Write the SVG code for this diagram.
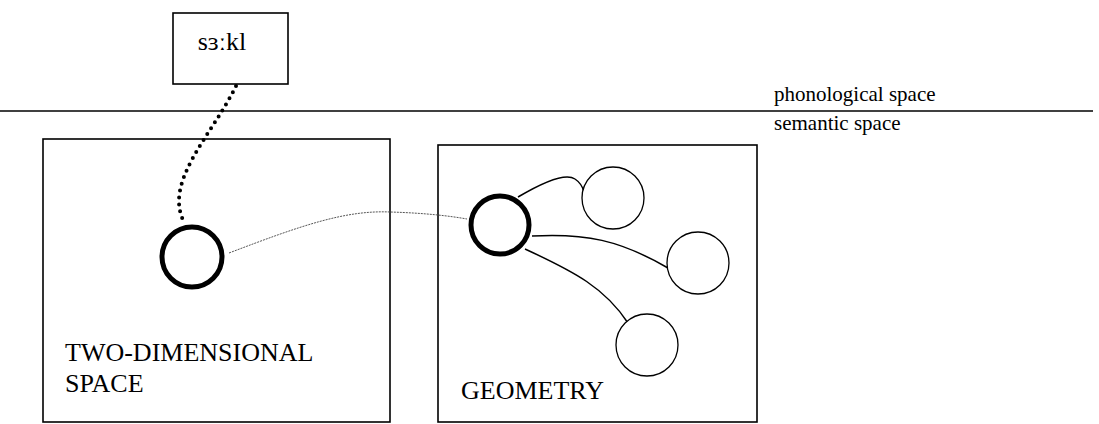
<svg xmlns="http://www.w3.org/2000/svg" width="1099" height="424" viewBox="0 0 1099 424">
<style>
text{font-family:"Liberation Serif","Times New Roman",serif;fill:#000}
.box{fill:#fff;stroke:#000;stroke-width:1.6}
.big{fill:#fff;stroke:#000;stroke-width:5}
.small{fill:#fff;stroke:#000;stroke-width:1.3}
.edge{fill:none;stroke:#000;stroke-width:1.5}
.thin{fill:none;stroke:#555;stroke-width:1;stroke-dasharray:2 1}
.dots{fill:none;stroke:#000;stroke-width:4;stroke-linecap:round;stroke-dasharray:0 7}
</style>
<rect width="1099" height="424" fill="#fff"/>
<g id="divider">
<line x1="0" y1="111" x2="1093" y2="111" stroke="#000" stroke-width="1.5"/>
<text x="774" y="101" font-size="21">phonological space</text>
<text x="774" y="130" font-size="21">semantic space</text>
</g>
<g id="box-two-dimensional">
<rect class="box" x="43" y="139" width="347" height="283"/>
<text x="65" y="361" font-size="26">TWO-DIMENSIONAL</text>
<text x="65" y="392" font-size="26">SPACE</text>
</g>
<g id="box-geometry">
<rect class="box" x="438" y="145" width="319" height="277"/>
<text x="461" y="399" font-size="26">GEOMETRY</text>
</g>
<g id="connectors">
<path class="dots" d="M236,86 C212,135 165,180 183,220"/>
<path class="thin" d="M229,253 C300,226 345,210 390,212 C425,213 450,216 467,219"/>
<path class="edge" d="M518,197 C540,184 565,172 575,179 C581,183 583,188 584,192"/>
<path class="edge" d="M532,236 C585,233 620,240 668,268"/>
<path class="edge" d="M525,249 C575,272 605,288 628,323"/>
</g>
<g id="node-word">
<rect class="box" x="173" y="13" width="115" height="71"/>
<text x="222" y="50" font-size="26" text-anchor="middle">sɜːkl</text>
</g>
<g id="node-left"><circle class="big" cx="192" cy="257" r="30"/></g>
<g id="node-geometry"><circle class="big" cx="500" cy="225" r="29"/></g>
<g id="node-c1"><circle class="small" cx="613" cy="198" r="31"/></g>
<g id="node-c2"><circle class="small" cx="698" cy="263" r="31"/></g>
<g id="node-c3"><circle class="small" cx="647" cy="345" r="31"/></g>
</svg>
